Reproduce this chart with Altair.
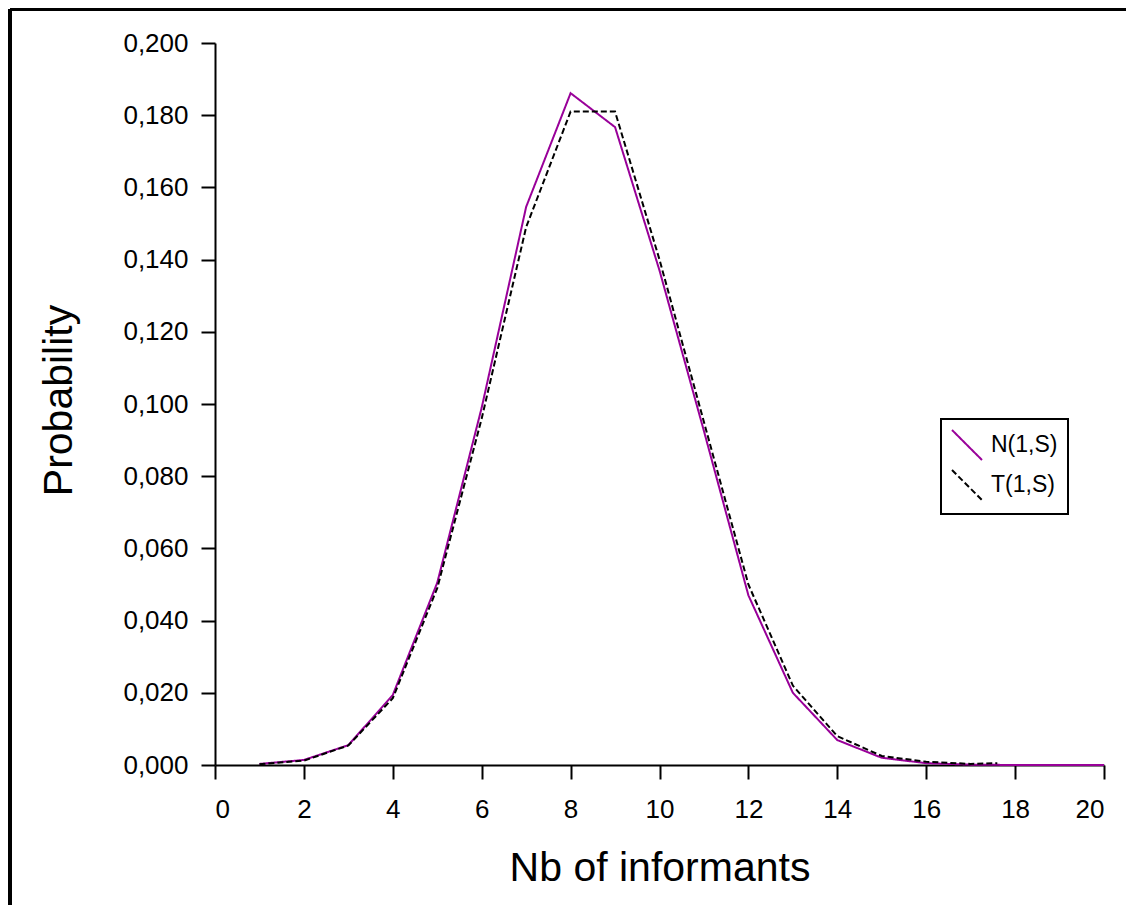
import altair as alt
import pandas as pd

# N(1,S) series
n_x = [1, 2, 3, 4, 5, 6, 7, 8, 9, 10, 11, 12, 13, 14, 15, 16, 17, 18, 19, 20]
n_y = [0.0003, 0.0014, 0.0055, 0.0194, 0.0505, 0.0990, 0.1546, 0.1861, 0.1767, 0.1370,
       0.0925, 0.0470, 0.0200, 0.0069, 0.0020, 0.0005, 0.0001, 0.0, 0.0, 0.0]

# T(1,S) series
t_x = [1, 2, 3, 4, 5, 6, 7, 8, 9, 10, 11, 12, 13, 14, 15, 16, 17, 17.6]
t_y = [0.0002, 0.0012, 0.0054, 0.0185, 0.0490, 0.0960, 0.1490, 0.1810, 0.1810, 0.1400,
       0.0950, 0.0500, 0.0220, 0.0080, 0.0025, 0.0009, 0.0003, 0.0005]

series_names = ["N(1,S)", "T(1,S)"]
x_ticks = list(range(0, 21, 2))
y_ticks = [round(i * 0.02, 3) for i in range(11)]

df = pd.concat([
    pd.DataFrame({"x": n_x, "y": n_y, "s": series_names[0]}),
    pd.DataFrame({"x": t_x, "y": t_y, "s": series_names[1]}),
])

FONT = "Liberation Sans"

legend_kw = dict(title=None, orient="none", legendX=726, legendY=376,
                 symbolType="M-1,-1L1,1", symbolSize=900,
                 symbolStrokeWidth=2, labelFontSize=23,
                 labelOffset=8, rowPadding=2, padding=10,
                 strokeColor="black", fillColor="white")

lines = alt.Chart(df).mark_line(strokeWidth=2, clip=False).encode(
    x=alt.X("x:Q", scale=alt.Scale(domain=[0, 20], nice=False),
            axis=alt.Axis(values=x_ticks, title="Nb of informants", grid=False,
                          labelFontSize=26, labelPadding=17, tickSize=14,
                          titleFontSize=41, titleFontWeight="normal",
                          titleY=103, titleBaseline="middle")),
    y=alt.Y("y:Q", scale=alt.Scale(domain=[0, 0.2], nice=False),
            axis=alt.Axis(values=y_ticks, title="Probability", grid=False,
                          labelExpr="replace(format(datum.value, '.3f'), '.', ',')",
                          labelFontSize=26, labelPadding=13, tickSize=14,
                          titleFontSize=41, titleFontWeight="normal",
                          titleAngle=-90, titleX=-156, titleY=357,
                          titleAlign="center", titleBaseline="middle")),
    color=alt.Color("s:N", scale=alt.Scale(domain=series_names, range=["#990099", "black"]),
                    legend=alt.Legend(**legend_kw)),
    strokeDash=alt.StrokeDash("s:N", scale=alt.Scale(domain=series_names, range=[[1, 0], [6, 3]]),
                              legend=alt.Legend(**legend_kw)),
    order=alt.Order("x:Q"),
)

frame_v = alt.Chart(df).mark_rule(color="black", strokeWidth=2.5).encode(
    x=alt.value(-205), y=alt.value(-34), y2=alt.value(870))
frame_h = alt.Chart(df).mark_rule(color="black", strokeWidth=2.5).encode(
    x=alt.value(-205), x2=alt.value(919), y=alt.value(-34))

chart = alt.layer(lines, frame_v, frame_h).properties(
    width=889, height=722,
    autosize=alt.AutoSizeParams(type="none"),
    padding={"left": 207, "top": 35, "right": 22, "bottom": 140},
    background="white",
).configure_view(stroke=None).configure_axis(
    domainColor="black", domainWidth=2, tickColor="black", tickWidth=2,
    labelColor="black", titleColor="black", labelFont=FONT, titleFont=FONT,
).configure_legend(
    labelFont=FONT, labelColor="black", strokeWidth=2,
)

chart.save("out.html", embed_options={"renderer": "svg", "actions": False})
